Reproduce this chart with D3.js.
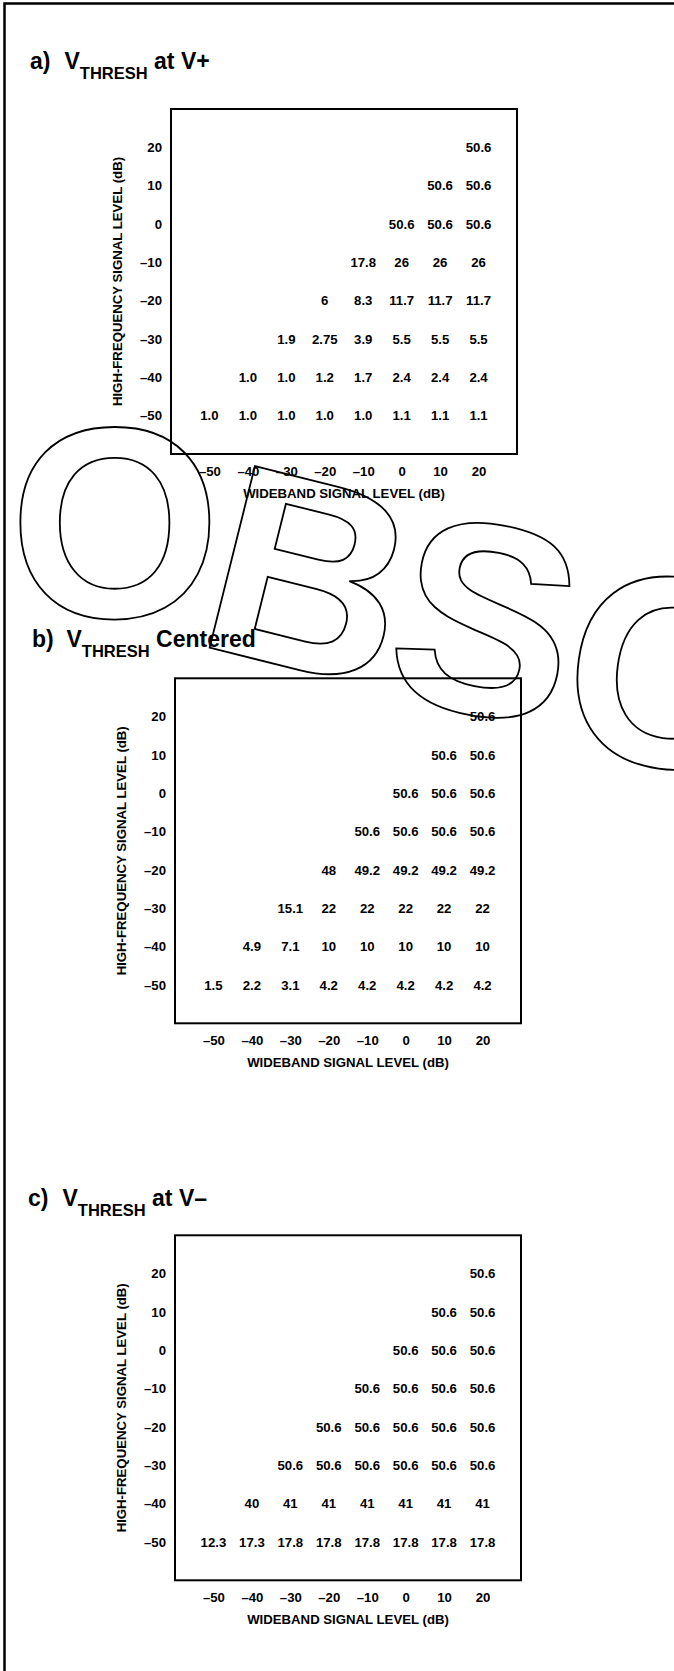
<!DOCTYPE html>
<html>
<head>
<meta charset="utf-8">
<script src="https://cdn.jsdelivr.net/npm/d3@7/dist/d3.min.js"></script>
<style>
  html, body { margin: 0; padding: 0; background: #fff; }
  svg { display: block; }
  text { font-family: "Liberation Sans", Arial, Helvetica, sans-serif; font-weight: bold; fill: #000; }
</style>
</head>
<body>
<script>
// ---------- data ----------
const wideband = [-50, -40, -30, -20, -10, 0, 10, 20];          // columns (x)
const highfreq = [20, 10, 0, -10, -20, -30, -40, -50];          // rows (y), top to bottom
const xTickLabels = ["–50", "–40", "–30", "–20", "–10", "0", "10", "20"];
const yTickLabels = ["20", "10", "0", "–10", "–20", "–30", "–40", "–50"];
const xTitle = "WIDEBAND SIGNAL LEVEL (dB)";
const yTitle = "HIGH-FREQUENCY SIGNAL LEVEL (dB)";

// rows follow highfreq order; each row follows wideband order (null = blank)
const vPlus = [
  [null, null, null, null, null, null, null, "50.6"],
  [null, null, null, null, null, null, "50.6", "50.6"],
  [null, null, null, null, null, "50.6", "50.6", "50.6"],
  [null, null, null, null, "17.8", "26", "26", "26"],
  [null, null, null, "6", "8.3", "11.7", "11.7", "11.7"],
  [null, null, "1.9", "2.75", "3.9", "5.5", "5.5", "5.5"],
  [null, "1.0", "1.0", "1.2", "1.7", "2.4", "2.4", "2.4"],
  ["1.0", "1.0", "1.0", "1.0", "1.0", "1.1", "1.1", "1.1"]
];
const vCentered = [
  [null, null, null, null, null, null, null, "50.6"],
  [null, null, null, null, null, null, "50.6", "50.6"],
  [null, null, null, null, null, "50.6", "50.6", "50.6"],
  [null, null, null, null, "50.6", "50.6", "50.6", "50.6"],
  [null, null, null, "48", "49.2", "49.2", "49.2", "49.2"],
  [null, null, "15.1", "22", "22", "22", "22", "22"],
  [null, "4.9", "7.1", "10", "10", "10", "10", "10"],
  ["1.5", "2.2", "3.1", "4.2", "4.2", "4.2", "4.2", "4.2"]
];
const vMinus = [
  [null, null, null, null, null, null, null, "50.6"],
  [null, null, null, null, null, null, "50.6", "50.6"],
  [null, null, null, null, null, "50.6", "50.6", "50.6"],
  [null, null, null, null, "50.6", "50.6", "50.6", "50.6"],
  [null, null, null, "50.6", "50.6", "50.6", "50.6", "50.6"],
  [null, null, "50.6", "50.6", "50.6", "50.6", "50.6", "50.6"],
  [null, "40", "41", "41", "41", "41", "41", "41"],
  ["12.3", "17.3", "17.8", "17.8", "17.8", "17.8", "17.8", "17.8"]
];
const panelLetters = ["a)", "b)", "c)"];
const panelSuffix = ["at V+", "Centered", "at V–"];
const panelData = [vPlus, vCentered, vMinus];
const watermark = ["O", "B", "S", "O"];

// ---------- layout ----------
const W = 674, H = 1671;
const svg = d3.select("body").append("svg").attr("width", W).attr("height", H);

// outer frame (only top and left edges visible)
svg.append("path")
  .attr("d", `M4.5,${H} V3.5 H${W}`)
  .attr("fill", "none").attr("stroke", "#000").attr("stroke-width", 2.5);

const panels = [
  { left: 171, top: 109, titleX: 30, titleY: 69 },
  { left: 175, top: 678.3, titleX: 32, titleY: 646.7 },
  { left: 175, top: 1235.3, titleX: 28, titleY: 1205.5 }
];
const boxW = 346, boxH = 345;
const FS = 13.2;

panels.forEach((p, pi) => {
  const g = svg.append("g");
  const x = d3.scaleLinear().domain([-60, 30]).range([p.left, p.left + boxW]);
  const y = d3.scaleLinear().domain([-60, 30]).range([p.top + boxH, p.top]);

  // title
  const t = g.append("text").attr("y", p.titleY).attr("font-size", 23);
  t.append("tspan").attr("x", p.titleX).text(panelLetters[pi]);
  t.append("tspan").attr("x", p.titleX + 34.5).text("V");
  t.append("tspan").attr("font-size", 16.5).attr("dy", 10).text("THRESH");
  t.append("tspan").attr("dy", -10).text("\u00A0" + panelSuffix[pi]);

  // box
  g.append("rect")
    .attr("x", x(-60)).attr("y", y(30))
    .attr("width", x(30) - x(-60)).attr("height", y(-60) - y(30))
    .attr("fill", "none").attr("stroke", "#000").attr("stroke-width", 2);

  // axes
  const xa = g.append("g").attr("transform", `translate(0,${y(-60)})`)
    .call(d3.axisBottom(x).tickValues(wideband).tickSize(0).tickPadding(12.5)
      .tickFormat((d, i) => xTickLabels[i]));
  const ya = g.append("g").attr("transform", `translate(${x(-60)},0)`)
    .call(d3.axisLeft(y).tickValues(highfreq).tickSize(0).tickPadding(9)
      .tickFormat((d, i) => yTickLabels[i]));
  [xa, ya].forEach(a => {
    a.select(".domain").remove();
    a.attr("font-family", null).attr("font-size", null);
    a.selectAll("text").attr("font-size", FS).attr("fill", "#000");
  });

  // axis titles
  g.append("text")
    .attr("x", (x(-60) + x(30)) / 2).attr("y", y(-60) + 39).attr("dy", "0.35em")
    .attr("text-anchor", "middle").attr("font-size", FS).text(xTitle);
  g.append("text")
    .attr("transform", `translate(${x(-60) - 54},${(y(-60) + y(30)) / 2}) rotate(-90)`)
    .attr("dy", "0.35em").attr("text-anchor", "middle").attr("font-size", FS).text(yTitle);

  // cell values
  const cells = [];
  panelData[pi].forEach((row, ri) => row.forEach((v, ci) => {
    if (v !== null) cells.push({ r: highfreq[ri], c: wideband[ci], v });
  }));
  g.selectAll("text.cell").data(cells).join("text")
    .attr("class", "cell")
    .attr("x", d => x(d.c)).attr("y", d => y(d.r)).attr("dy", "0.35em")
    .attr("text-anchor", "middle").attr("font-size", FS)
    .text(d => d.v);
});

// watermark (outlined letters)
const wmPos = [
  { cx: 115, cy: 519, rot: 0 },
  { cx: 311, cy: 572, rot: 14 },
  { cx: 487, cy: 616, rot: 11 },
  { cx: 673, cy: 669, rot: 8 }
];
svg.append("g").selectAll("text").data(watermark).join("text")
  .attr("transform", (d, i) => `translate(${wmPos[i].cx},${wmPos[i].cy}) rotate(${wmPos[i].rot})`)
  .attr("text-anchor", "middle").attr("dy", "0.36em")
  .attr("font-size", 272)
  .style("fill", "none").style("stroke", "#000").style("stroke-width", 1.8)
  .text(d => d);
</script>
</body>
</html>
